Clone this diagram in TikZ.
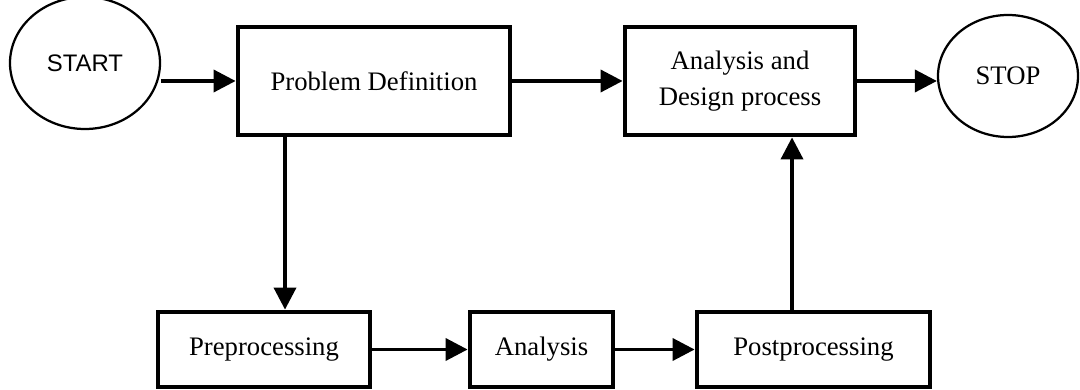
\documentclass[tikz,border=0pt]{standalone}
\usepackage{fontspec}
\setmainfont{Liberation Serif}
\newfontfamily\startfont{Liberation Sans}
\usepackage{tikz}
\usetikzlibrary{shapes.geometric, arrows.meta, positioning, calc}
\usepackage{xcolor}

\begin{document}
\begin{tikzpicture}[
    terminal/.style={ellipse, draw, line width=1.6pt, minimum width=3.6cm, minimum height=3.2cm, inner sep=0pt},
    process/.style={rectangle, draw, line width=3.4pt, align=center, font=\fontsize{19}{26}\selectfont, inner sep=0pt},
    flow/.style={line width=2.6pt, -{Triangle[length=0.55cm, width=0.55cm]}}
]

% Page frame
\useasboundingbox (0, 0) rectangle (27, 9.725);

% Terminals
\node[terminal, minimum width=3.75cm, minimum height=3.3cm, font=\startfont\fontsize{17}{20}\selectfont] (start) at (2.125, 8.15) {START};
\node[terminal, minimum width=3.5cm, minimum height=3.05cm, font=\fontsize{19}{23}\selectfont] (stop) at (25.2, 7.825) {STOP};

% Upper row
\node[process, minimum width=6.8cm, minimum height=2.7cm] (probdef) at (9.35, 7.7) {Problem Definition};
\node[process, minimum width=5.75cm, minimum height=2.7cm] (design) at (18.5, 7.7) {Analysis and\\Design process};

% Lower row
\node[process, minimum width=5.3cm, minimum height=1.875cm] (pre) at (6.6, 0.9875) {Preprocessing};
\node[process, minimum width=3.575cm, minimum height=1.875cm] (analysis) at (13.5375, 0.9875) {Analysis};
\node[process, minimum width=5.825cm, minimum height=1.875cm] (post) at (20.3375, 0.9875) {Postprocessing};

% Connectors
\draw[flow] (start.east |- probdef) -- (probdef.west);
\draw[flow] (probdef) -- (design);
\draw[flow] (design.east) -- (stop.west |- design.east);
\draw[flow] ([xshift=-2.225cm]probdef.south) -- ([xshift=-2.225cm]probdef.south |- pre.north);
\draw[flow] (pre) -- (analysis);
\draw[flow] (analysis) -- (post);
\draw[flow] ([xshift=-0.5375cm]post.north) -- ([xshift=-0.5375cm]post.north |- design.south);

\end{tikzpicture}
\end{document}
